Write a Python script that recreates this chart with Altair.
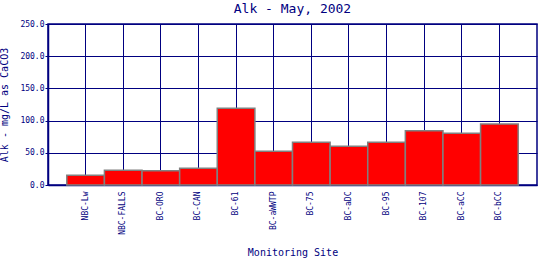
import altair as alt
import pandas as pd

sites = ["NBC-Lw", "NBC-FALLS", "BC-ORO", "BC-CAN", "BC-61", "BC-aWWTP",
         "BC-75", "BC-aDC", "BC-95", "BC-107", "BC-aCC", "BC-bCC"]
alk = [15.0, 22.8, 22.2, 25.9, 119.0, 52.3, 66.3, 60.0, 66.3, 84.3, 80.2, 94.7]

df = pd.DataFrame({"site": sites, "alk": alk})

NAVY = "#000080"
FONT = "DejaVu Sans Mono"

chart = alt.Chart(df).mark_bar(
    color="#ff0000", stroke="#808080", strokeWidth=1.5
).encode(
    x=alt.X("site:N", sort=sites,
            scale=alt.Scale(paddingInner=0, paddingOuter=0.5),
            axis=alt.Axis(title="Monitoring Site", labelAngle=270, tickSize=0,
                          labelPadding=6, bandPosition=0.5, grid=True,
                          titlePadding=13)),
    y=alt.Y("alk:Q", scale=alt.Scale(domain=[0, 250], nice=False),
            axis=alt.Axis(title="Alk - mg/L as CaCO3", values=[0, 50, 100, 150, 200, 250],
                          format=".1f", tickSize=3, labelPadding=1, titlePadding=10)),
).properties(
    width=489, height=161,
    title=alt.TitleParams("Alk - May, 2002", fontSize=13, font=FONT, color=NAVY,
                          fontWeight="normal", offset=4),
    autosize="none",
    padding={"left": 48, "top": 24, "right": 3, "bottom": 75},
).configure_axis(
    gridColor=NAVY, gridOpacity=1, gridWidth=1,
    domainColor=NAVY, domainWidth=1.5, tickColor=NAVY,
    labelColor=NAVY, titleColor=NAVY, labelFont=FONT, titleFont=FONT,
    labelFontSize=8, titleFontSize=10, titleFontWeight="normal",
).configure_view(
    stroke=NAVY, strokeWidth=1.5
)

chart.save("out.html", embed_options={"renderer": "svg", "actions": False})
